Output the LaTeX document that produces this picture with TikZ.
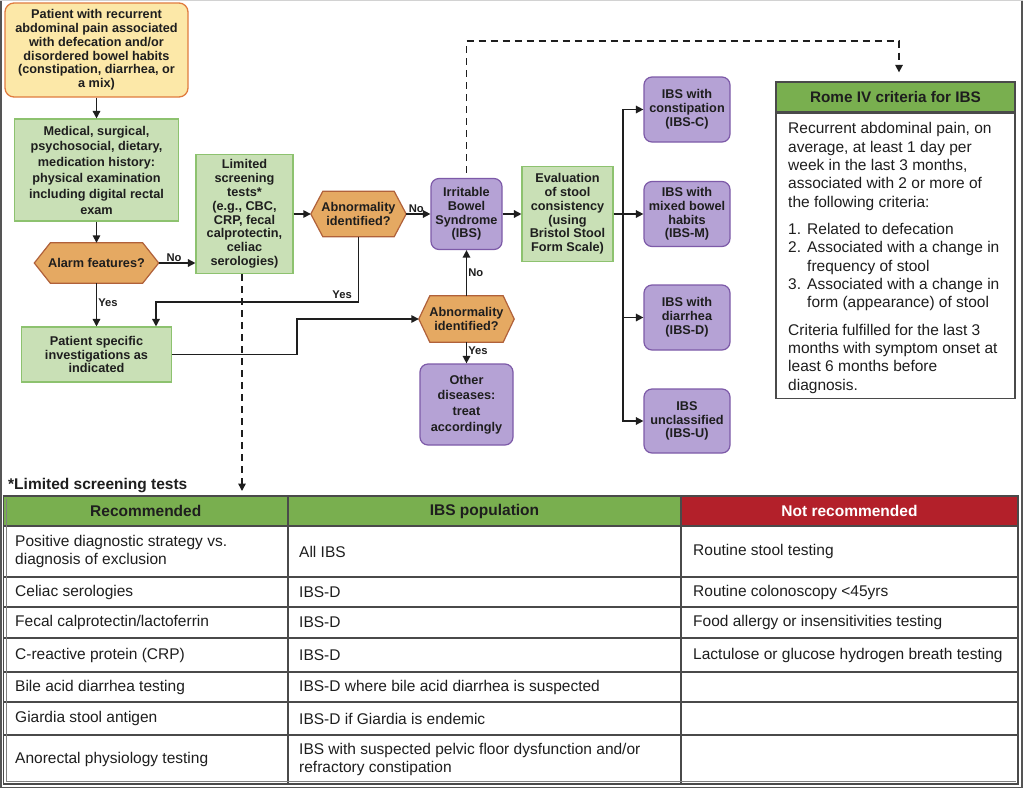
\documentclass[tikz,border=0pt]{standalone}
\usepackage{fontspec}
\setmainfont{Liberation Sans}
\usetikzlibrary{arrows.meta,backgrounds}
\definecolor{yfill}{HTML}{FCE8A8}
\definecolor{ydraw}{HTML}{E07B3F}
\definecolor{gfill}{HTML}{C9E0B6}
\definecolor{gdraw}{HTML}{8DC26F}
\definecolor{ofill}{HTML}{E5A962}
\definecolor{odraw}{HTML}{B0613A}
\definecolor{pfill}{HTML}{B5A2D5}
\definecolor{pdraw}{HTML}{7D5AA8}
\definecolor{hgreen}{HTML}{79AF4F}
\definecolor{hred}{HTML}{B3202A}
\definecolor{lnc}{HTML}{1E1E1E}
\definecolor{rgray}{HTML}{4A4A4A}
\definecolor{frm}{HTML}{555555}
\newcommand\hexdraw[2]{%
  \path[hexs] (#1.west) -- ([xshift=#2pt]#1.north west) -- ([xshift=-#2pt]#1.north east)
    -- (#1.east) -- ([xshift=-#2pt]#1.south east) -- ([xshift=#2pt]#1.south west) -- cycle;}
\begin{document}
\begin{tikzpicture}[x=1pt,y=-1pt,
  fc/.style={font=\bfseries\fontsize{12.7}{13.8}\selectfont, align=center, inner sep=1pt, text=lnc},
  fcw/.style={font=\bfseries\fontsize{12.7}{15.8}\selectfont},
  sz/.style 2 args={minimum width=#1pt, minimum height=#2pt},
  ybox/.style={fc, draw=ydraw, fill=yfill, rounded corners=9pt, line width=1.3pt},
  gbox/.style={fc, draw=gdraw, fill=gfill, line width=1.1pt},
  pbox/.style={fc, draw=pdraw, fill=pfill, rounded corners=8pt, line width=1.2pt},
  hexn/.style={fc},
  hexs/.style={draw=odraw, fill=ofill, line width=1.2pt},
  ln/.style={draw=lnc, line width=1.5pt},
  arr/.style={ln, -{Triangle[length=7.5pt,width=7.5pt]}},
  dsharr/.style={arr, dash pattern=on 7pt off 5pt},
  lab/.style={font=\bfseries\fontsize{11.2}{12}\selectfont, text=lnc, inner sep=1pt},
  tc/.style={font=\fontsize{15.5}{18}\selectfont, text=lnc, align=left, inner sep=0pt, anchor=west},
  th/.style={font=\bfseries\fontsize{15.5}{18}\selectfont, text=lnc, inner sep=0pt},
  tl/.style={draw=rgray, line width=1.4pt}
]
\useasboundingbox (0,0) rectangle (1023,788);

% ---------- flowchart nodes ----------
\node[ybox, sz={183}{94}] (top) at (96.5,50) {Patient with recurrent\\abdominal pain associated\\with defecation and/or\\disordered bowel habits\\(constipation, diarrhea, or\\a mix)};
\node[gbox, fcw, sz={164}{102}] (hist) at (96.5,170) {Medical, surgical,\\psychosocial, dietary,\\medication history:\\physical examination\\including digital rectal\\exam};
\node[hexn, sz={124}{40}] (alarm) at (96.5,263) {Alarm features?};
\node[gbox, sz={97}{119}] (lim) at (244.5,214) {Limited\\screening\\tests*\\(e.g., CBC,\\CRP, fecal\\calprotectin,\\celiac\\serologies)};
\node[hexn, sz={95}{45}] (ab1) at (358.5,214) {Abnormality\\identified?};
\node[gbox, sz={150}{55}] (psi) at (96.5,354.5) {Patient specific\\investigations as\\indicated};
\node[pbox, sz={71}{71}] (ibs) at (466.5,214) {Irritable\\Bowel\\Syndrome\\(IBS)};
\node[hexn, sz={95}{46}] (ab2) at (466.5,319) {Abnormality\\identified?};
\node[pbox, fcw, sz={93}{81}] (other) at (466.5,404.5) {Other\\diseases:\\treat\\accordingly};
\node[gbox, sz={91}{95}] (eval) at (567.5,214) {Evaluation\\of stool\\consistency\\(using\\Bristol Stool\\Form Scale)};
\node[pbox, sz={86}{65}] (ibsc) at (687,109.5) {IBS with\\constipation\\(IBS-C)};
\node[pbox, sz={86}{65}] (ibsm) at (687,214) {IBS with\\mixed bowel\\habits\\(IBS-M)};
\node[pbox, sz={86}{65}] (ibsd) at (687,317.5) {IBS with\\diarrhea\\(IBS-D)};
\node[pbox, sz={86}{64}] (ibsu) at (687,421) {IBS\\unclassified\\(IBS-U)};

\begin{scope}[on background layer]
  \fill[white] (0,0) rectangle (1023,788);
  \fill[frm] (0,0) rectangle (2.2,788);
  \fill[frm] (1020.6,0) rectangle (1023,788);
  \fill[frm] (0,786.6) rectangle (1023,788);
  \fill[gray!35] (0,0) rectangle (1023,1.2);
  \hexdraw{alarm}{16}
  \hexdraw{ab1}{12}
  \hexdraw{ab2}{11}
\end{scope}

% ---------- Rome IV box ----------
\node[draw=rgray, fill=hgreen, line width=1.3pt, sz={239}{30}, text=lnc,
      font=\bfseries\fontsize{15.3}{18}\selectfont] (romeh) at (895.5,97) {Rome IV criteria for IBS};
\node[draw=rgray, line width=1.3pt, sz={239}{285}, anchor=north] (romeb) at (romeh.south) {};
\node[anchor=north west, inner sep=0pt, align=left, text=lnc,
      font=\fontsize{15.5}{18.3}\selectfont] (romet) at (788,122.5) {%
Recurrent abdominal pain, on\\
average, at least 1 day per\\
week in the last 3 months,\\
associated with 2 or more of\\
the following criteria:\\[9.2pt]
\makebox[19pt][l]{1.}Related to defecation\\
\makebox[19pt][l]{2.}Associated with a change in\\
\hspace*{19pt}frequency of stool\\
\makebox[19pt][l]{3.}Associated with a change in\\
\hspace*{19pt}form (appearance) of stool\\[9.2pt]
Criteria fulfilled for the last 3\\
months with symptom onset at\\
least 6 months before\\
diagnosis.};

% ---------- connectors ----------
\draw[arr] (top.south) -- (top.south |- hist.north);
\draw[arr] (hist.south) -- (hist.south |- alarm.north);
\draw[arr] (alarm.east) -- (alarm.east -| lim.west) node[lab, midway, above, xshift=-3pt] {No};
\draw[arr] (alarm.south) -- (alarm.south |- psi.north) node[lab, midway, right, yshift=2pt] {Yes};
\draw[arr] (lim.east) -- (ab1.west);
\draw[arr] (ab1.east) -- (ibs.west) node[lab, midway, above, xshift=-2pt] {No};
\coordinate (yb) at (156,302);
\draw[arr] (ab1.south) |- (yb) node[lab, pos=0.5, anchor=south east, xshift=-5pt, yshift=2pt] {Yes} -- (yb |- psi.north);
\draw[arr] (psi.east) -- ++(125,0) |- (ab2.west);
\draw[arr] (ab2.north) -- (ibs.south) node[lab, midway, right] {No};
\draw[arr] (ab2.south) -- (other.north) node[lab, midway, right, yshift=2pt] {Yes};
\draw[arr] (ibs.east) -- (eval.west);
\coordinate (bus) at (623,214);
\draw[ln] (eval.east) -- (bus);
\draw[arr] (bus) |- (ibsc.west);
\draw[arr] (bus) |- (ibsu.west);
\draw[arr] (bus) -- (ibsm.west);
\draw[arr] (bus |- ibsd.west) -- (ibsd.west);
\coordinate (dtop) at (899,41);
\draw[dsharr, shorten <=5pt, shorten >=9pt] (ibs.north) |- (dtop) -- (dtop |- romeh.north);
\coordinate (tbl) at (242,496);
\draw[dsharr, shorten >=5pt] ([xshift=-2.5pt]lim.south) -- (tbl);

% ---------- table ----------
\node[font=\bfseries\fontsize{15.5}{18}\selectfont, text=lnc, anchor=west, inner sep=0pt] (tcap) at (8,486) {*Limited screening tests};
\fill[hgreen] (3.5,496) rectangle (681,526);
\fill[hred] (681,496) rectangle (1018,526);
\foreach \yy in {526,577,607,638,672,702,735} \draw[tl] (3.5,\yy) -- (1018,\yy);
\draw[tl] (288,496) -- (288,784);
\draw[tl] (681,496) -- (681,784);
\draw[draw=rgray, line width=1.6pt] (3.5,496) rectangle (1018,784);
\draw[draw=rgray!70, line width=0.6pt] (6,498.5) -- (6,781.5) -- (1015.5,781.5);

\node[th] (th1) at (145.75,511) {Recommended};
\node[th] (th2) at (484.5,511) {IBS population};
\node[th, text=white] (th3) at (849.5,511) {Not recommended};

\node[tc] (a1) at (15,551.5) {Positive diagnostic strategy vs.\\diagnosis of exclusion};
\node[tc] (a2) at (15,592) {Celiac serologies};
\node[tc] (a3) at (15,622.5) {Fecal calprotectin/lactoferrin};
\node[tc] (a4) at (15,655) {C-reactive protein (CRP)};
\node[tc] (a5) at (15,687) {Bile acid diarrhea testing};
\node[tc] (a6) at (15,718.5) {Giardia stool antigen};
\node[tc] (a7) at (15,759.5) {Anorectal physiology testing};

\node[tc] (b1) at (299,551.5) {All IBS};
\node[tc] (b2) at (299,592) {IBS-D};
\node[tc] (b3) at (299,622.5) {IBS-D};
\node[tc] (b4) at (299,655) {IBS-D};
\node[tc] (b5) at (299,687) {IBS-D where bile acid diarrhea is suspected};
\node[tc] (b6) at (299,718.5) {IBS-D if Giardia is endemic};
\node[tc] (b7) at (299,759.5) {IBS with suspected pelvic floor dysfunction and/or\\refractory constipation};

\node[tc] (c1) at (693,551.5) {Routine stool testing};
\node[tc] (c2) at (693,592) {Routine colonoscopy <45yrs};
\node[tc] (c3) at (693,622.5) {Food allergy or insensitivities testing};
\node[tc] (c4) at (693,655) {Lactulose or glucose hydrogen breath testing};
\end{tikzpicture}
\end{document}
